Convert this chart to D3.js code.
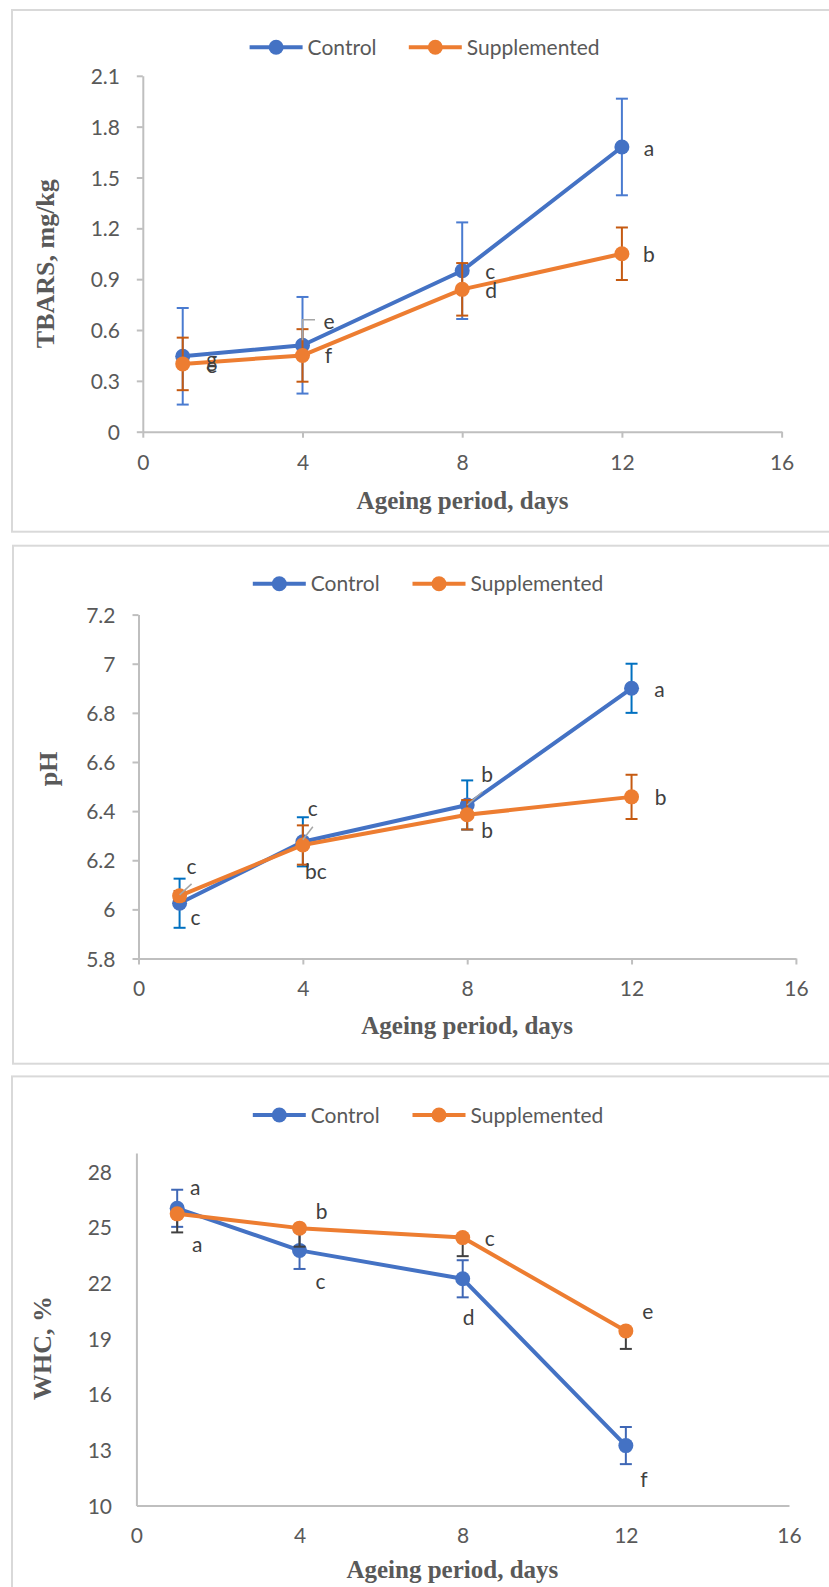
<!DOCTYPE html>
<html>
<head>
<meta charset="utf-8">
<script src="https://cdn.jsdelivr.net/npm/d3@7"></script>
<style>
  body { margin: 0; background: #fff; }
  svg { display: block; }
</style>
</head>
<body>
<svg width="829" height="1587"></svg>
<script>
// ---- data ----
const days = [1, 4, 8, 12];
const xTicks = [0, 4, 8, 12, 16];
const seriesNames = ["Control", "Supplemented"];

const tbarsControl = [0.445, 0.51, 0.95, 1.68];
const tbarsControlErr = [0.285, 0.285, 0.285, 0.285];
const tbarsSupp = [0.40, 0.45, 0.84, 1.05];
const tbarsSuppErr = [0.155, 0.155, 0.155, 0.155];
const tbarsControlLetters = ["g", "e", "c", "a"];
const tbarsSuppLetters = ["e", "f", "d", "b"];
const tbarsTicks = [0, 0.3, 0.6, 0.9, 1.2, 1.5, 1.8, 2.1];

const phControl = [6.025, 6.275, 6.425, 6.90];
const phControlErr = [0.1, 0.1, 0.1, 0.1];
const phSupp = [6.055, 6.262, 6.385, 6.458];
const phSuppErr = [0.02, 0.08, 0.06, 0.09];
const phControlLetters = ["c", "c", "b", "a"];
const phSuppLetters = ["c", "bc", "b", "b"];
const phTicks = [5.8, 6, 6.2, 6.4, 6.6, 6.8, 7, 7.2];

const whcControl = [26.02, 23.75, 22.22, 13.23];
const whcControlErr = [1.0, 1.0, 1.0, 1.0];
const whcSupp = [25.72, 24.95, 24.44, 19.41];
const whcSuppErr = [1.0, 1.0, 1.0, 0.97];
const whcControlLetters = ["a", "c", "d", "f"];
const whcSuppLetters = ["a", "b", "c", "e"];
const whcTicks = [10, 13, 16, 19, 22, 25, 28];

// ---- look ----
const blue = "#4472C4";
const orange = "#ED7D31";
const textColor = "#595959";
const axisColor = "#BFBFBF";
const sans = "Lato, 'Open Sans', sans-serif";
const serif = "'Liberation Serif', 'Times New Roman', serif";

const svg = d3.select("svg");
svg.append("rect").attr("width", 829).attr("height", 1587).attr("fill", "#fff");

const panels = [
  {
    box: [12, 10, 830, 521.7],
    xRange: [142.8, 781.6], yRange: [431.7, 75.8], yDomain: [0, 2.1],
    yTicks: tbarsTicks, tickSize: 6, xPad: 17.4, yPad: 16.8,
    legendY: 47.3, legendX: [249.6, 408.8],
    yTitle: "TBARS, mg/kg", yTitleX: 45, yTitleY: 263.7, xTitleX: 462.5, xTitleBase: 509,
    series: [
      { values: tbarsControl, err: tbarsControlErr, errColor: "#4A7BD0", letters: tbarsControlLetters,
        offsets: [[29, 4], [26.5, -23], [28, 2], [27, 2.4]],
        leaders: { 1: [[0, -5], [0, -25.5], [12.5, -25.5]] } },
      { values: tbarsSupp, err: tbarsSuppErr, errColor: "#C55A11", letters: tbarsSuppLetters,
        offsets: [[29, 3], [26, 1], [29, 2], [27, 1.8]], leaders: {} }
    ]
  },
  {
    box: [13, 545.7, 830, 518],
    xRange: [138.5, 795.9], yRange: [958.5, 614.6], yDomain: [5.8, 7.2],
    yTicks: phTicks, tickSize: 6, xPad: 16.6, yPad: 17,
    legendY: 583.7, legendX: [252.8, 412.5],
    yTitle: "pH", yTitleX: 47.6, yTitleY: 768.8, xTitleX: 467.2, xTitleBase: 1034,
    series: [
      { values: phControl, err: phControlErr, errColor: "#0070C0", letters: phControlLetters,
        offsets: [[16, 15.5], [10, -32], [20, -29], [28, 2]],
        leaders: { 1: [[0, -2], [10, -15]], 2: [[0, 0], [15, -13]] } },
      { values: phSupp, err: phSuppErr, errColor: "#C55A11", letters: phSuppLetters,
        offsets: [[12, -28], [13, 28], [20, 17], [29, 2]],
        leaders: { 0: [[0, -1], [12, -12]] } }
    ]
  },
  {
    box: [12, 1076.4, 830, 560],
    xRange: [136.4, 789], yRange: [1505.5, 1153], yDomain: [10, 29],
    yTicks: whcTicks, tickSize: 0, xPad: 22.6, yPad: 24.4,
    legendY: 1115, legendX: [252.8, 412.5],
    yTitle: "WHC, %", yTitleX: 42.3, yTitleY: 1348, xTitleX: 452.4, xTitleBase: 1578,
    series: [
      { values: whcControl, err: whcControlErr, errColor: "#3F67B5", letters: whcControlLetters,
        offsets: [[18, -20], [21, 32.5], [6, 40], [18, 35]], leaders: {} },
      { values: whcSupp, err: whcSuppErr, errColor: "#404040", minusOnly: true, letters: whcSuppLetters,
        offsets: [[20, 32], [22, -15.5], [27, 2], [22, -18]], leaders: {} }
    ]
  }
];
const lineColors = [blue, orange];

panels.forEach(p => drawPanel(p));

function drawPanel(p) {
  const g = svg.append("g");
  g.append("rect")
    .attr("x", p.box[0]).attr("y", p.box[1])
    .attr("width", p.box[2]).attr("height", p.box[3])
    .attr("fill", "#fff").attr("stroke", "#D9D9D9").attr("stroke-width", 2);

  const x = d3.scaleLinear().domain([0, 16]).range(p.xRange);
  const y = d3.scaleLinear().domain(p.yDomain).range(p.yRange);

  const xAxis = g.append("g")
    .attr("transform", `translate(0,${p.yRange[0]})`)
    .call(d3.axisBottom(x).tickValues(xTicks).tickSize(p.tickSize).tickSizeOuter(0).tickPadding(p.xPad));
  const yAxis = g.append("g")
    .attr("transform", `translate(${p.xRange[0]},0)`)
    .call(d3.axisLeft(y).tickValues(p.yTicks).tickFormat(d => String(d))
      .tickSize(p.tickSize).tickSizeOuter(0).tickPadding(p.yPad));
  [xAxis, yAxis].forEach(a => {
    a.select(".domain").attr("stroke", axisColor).attr("stroke-width", 2);
    a.selectAll(".tick line").attr("stroke", axisColor).attr("stroke-width", 2);
    a.selectAll(".tick text").attr("fill", textColor)
      .style("font-family", sans).style("font-size", "21px");
  });
  yAxis.selectAll(".tick text").attr("dy", "0.36em");

  // axis titles
  g.append("text")
    .attr("x", p.xTitleX).attr("y", p.xTitleBase)
    .attr("text-anchor", "middle")
    .style("font-family", serif).style("font-weight", "bold").style("font-size", "25px")
    .attr("fill", textColor)
    .text("Ageing period, days");
  g.append("text")
    .attr("transform", `translate(${p.yTitleX},${p.yTitleY}) rotate(-90)`)
    .attr("text-anchor", "middle").attr("dy", "0.35em")
    .style("font-family", serif).style("font-weight", "bold").style("font-size", "26px")
    .attr("fill", textColor)
    .text(p.yTitle);

  const line = d3.line().x((d, i) => x(days[i])).y(d => y(d));

  p.series.forEach((s, si) => {
    // error bars
    const eb = g.append("g").attr("stroke", s.errColor).attr("stroke-width", 2).attr("fill", "none");
    s.values.forEach((v, i) => {
      const cx = x(days[i]);
      const top = s.minusOnly ? y(v) : y(v + s.err[i]);
      const bot = y(v - s.err[i]);
      eb.append("line").attr("x1", cx).attr("x2", cx).attr("y1", top).attr("y2", bot);
      if (!s.minusOnly) eb.append("line").attr("x1", cx - 6).attr("x2", cx + 6).attr("y1", top).attr("y2", top);
      eb.append("line").attr("x1", cx - 6).attr("x2", cx + 6).attr("y1", bot).attr("y2", bot);
    });
    // series line + markers
    g.append("path").datum(s.values)
      .attr("d", line).attr("fill", "none")
      .attr("stroke", lineColors[si]).attr("stroke-width", 4).attr("stroke-linejoin", "round");
    g.append("g").selectAll("circle").data(s.values).join("circle")
      .attr("cx", (d, i) => x(days[i])).attr("cy", d => y(d))
      .attr("r", 7.5).attr("fill", lineColors[si]);
  });

  // letter labels and leader lines
  p.series.forEach(s => {
    s.values.forEach((v, i) => {
      const cx = x(days[i]);
      const cy = y(v);
      const pts = s.leaders[i];
      if (pts) {
        g.append("path")
          .attr("d", d3.line()(pts.map(q => [cx + q[0], cy + q[1]])))
          .attr("fill", "none").attr("stroke", "#A6A6A6").attr("stroke-width", 1.5);
      }
      g.append("text")
        .attr("x", cx + s.offsets[i][0]).attr("y", cy + s.offsets[i][1])
        .attr("text-anchor", "middle").attr("dy", "0.3em")
        .style("font-family", sans).style("font-size", "21px")
        .attr("fill", "#404040")
        .text(s.letters[i]);
    });
  });

  // legend
  seriesNames.forEach((name, si) => {
    const lx = p.legendX[si];
    const lg = g.append("g");
    lg.append("line")
      .attr("x1", lx).attr("x2", lx + 53).attr("y1", p.legendY).attr("y2", p.legendY)
      .attr("stroke", lineColors[si]).attr("stroke-width", 4);
    lg.append("circle").attr("cx", lx + 26.5).attr("cy", p.legendY).attr("r", 7.5).attr("fill", lineColors[si]);
    lg.append("text")
      .attr("x", lx + 58).attr("y", p.legendY).attr("dy", "0.36em")
      .style("font-family", sans).style("font-size", "21px")
      .attr("fill", textColor)
      .text(name);
  });
}
</script>
</body>
</html>
